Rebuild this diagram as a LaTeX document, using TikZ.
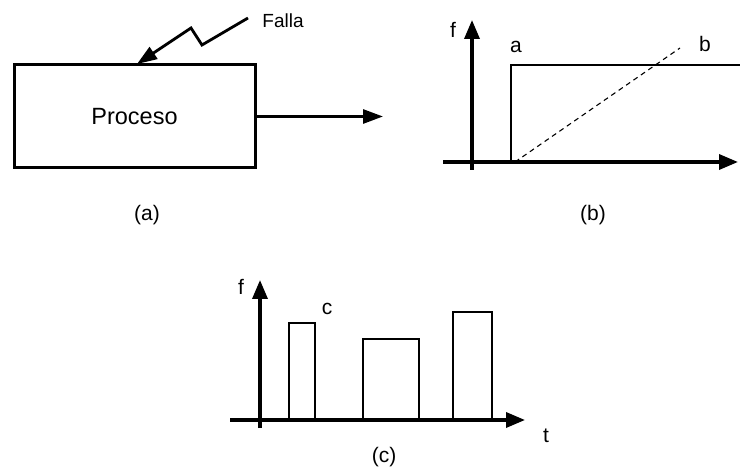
\documentclass[tikz,border=0pt]{standalone}
\usepackage{fontspec}
\setmainfont{Liberation Sans}
\usetikzlibrary{arrows.meta}
\begin{document}
\begin{tikzpicture}[x=1pt,y=-1pt,
  axis/.style={line width=3.5pt,-{Triangle[length=19pt,width=15pt]}},
  sig/.style={line width=1.1pt},
  lbl/.style={inner sep=0pt,font=\fontsize{21}{21}\selectfont},
  thickarrow/.style={line width=2.8pt,-{Triangle[length=20pt,width=14pt]}}]
\useasboundingbox (0,0) rectangle (756,473);

% (a)
\node[draw,line width=3pt,minimum width=241pt,minimum height=103pt,inner sep=0pt,
      font=\fontsize{23.5}{23.5}\selectfont] (box) at (134.5,116.5) {Proceso};
\coordinate (out) at (383,116.5);
\draw[thickarrow] (box.east) -- (out);
\coordinate (f1) at (248,18);
\coordinate (f2) at (202,45);
\coordinate (f3) at (191,28);
\coordinate (f4) at (137,64);
\draw[thickarrow,line join=miter] (f1) -- (f2) -- (f3) -- (f4);
\node[inner sep=0pt,font=\fontsize{19}{19}\selectfont] (falla) at (283,21) {Falla};
\node[lbl] (la) at (147,215) {(a)};

% (b)
\coordinate (bxl) at (443,162);
\coordinate (bxr) at (738,162);
\coordinate (byb) at (472,170);
\coordinate (byt) at (472,20);
\draw[axis] (bxl) -- (bxr);
\draw[axis] (byb) -- (byt);
\coordinate (s0) at (511,162);
\coordinate (s1) at (511,65);
\coordinate (s2) at (740,65);
\draw[sig] (s0) -- (s1) -- (s2);
\coordinate (r0) at (515,162);
\coordinate (r1) at (680,48);
\draw[sig,dash pattern=on 5pt off 4pt] (r0) -- (r1);
\node[lbl] (fb) at (453,30) {f};
\node[lbl] (ta) at (516,47) {a};
\node[lbl] (tb) at (705,44) {b};
\node[lbl] (lb) at (593,215) {(b)};

% (c)
\coordinate (cxl) at (230,420);
\coordinate (cxr) at (525,420);
\coordinate (cyb) at (260,428);
\coordinate (cyt) at (260,280);
\draw[axis] (cxl) -- (cxr);
\draw[axis] (cyb) -- (cyt);
\draw[sig] (289,420) -- (289,323) -- (315,323) -- (315,420);
\draw[sig] (363,420) -- (363,339) -- (419,339) -- (419,420);
\draw[sig] (453,420) -- (453,312) -- (492,312) -- (492,420);
\node[lbl] (fc) at (241,287) {f};
\node[lbl] (tc) at (327,309) {c};
\node[lbl] (tt) at (546,436) {t};
\node[lbl] (lc) at (384,457) {(c)};
\end{tikzpicture}
\end{document}
